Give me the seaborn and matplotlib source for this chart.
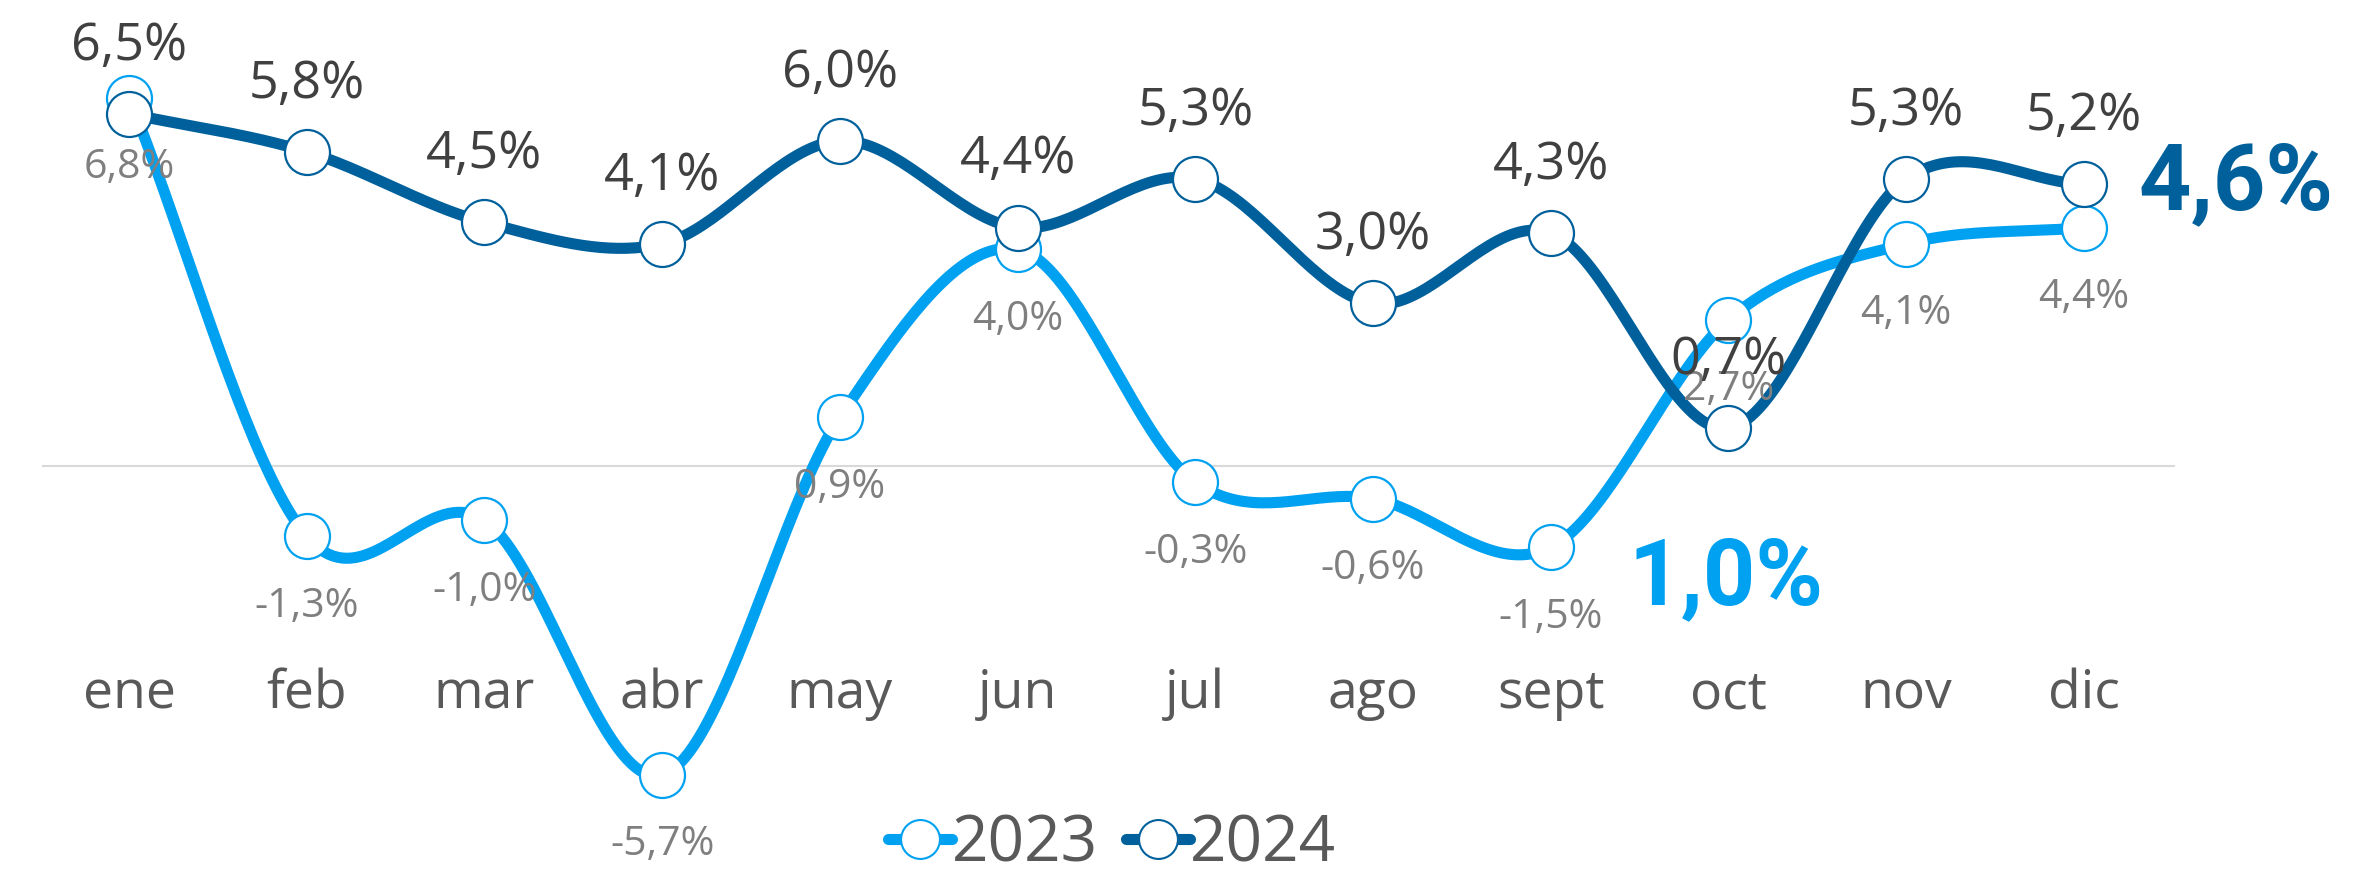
import numpy as np
import pandas as pd
import matplotlib
matplotlib.use("Agg")
import matplotlib.pyplot as plt
from matplotlib.lines import Line2D
import seaborn as sns

# Data
months = ["ene", "feb", "mar", "abr", "may", "jun", "jul", "ago", "sept", "oct", "nov", "dic"]
v2023 = [6.8, -1.3, -1.0, -5.7, 0.9, 4.0, -0.3, -0.6, -1.5, 2.7, 4.1, 4.4]
v2024 = [6.5, 5.8, 4.5, 4.1, 6.0, 4.4, 5.3, 3.0, 4.3, 0.7, 5.3, 5.2]
years = ["2023", "2024"]
totals = {"2023": "1,0%", "2024": "4,6%"}

colors = {"2023": "#00A1F1", "2024": "#00609C"}


def fmt(v):
    return f"{v:.1f}".replace(".", ",") + "%"


def smooth(values, steps=40):
    # cardinal (Catmull-Rom) spline through the points, like the original tool
    y = np.asarray(values, float)
    n = len(y)
    m = np.empty(n)
    m[1:-1] = (y[2:] - y[:-2]) / 2
    m[0] = y[1] - y[0]
    m[-1] = y[-1] - y[-2]
    t = np.linspace(0, 1, steps, endpoint=False)
    h00 = 2 * t**3 - 3 * t**2 + 1
    h10 = t**3 - 2 * t**2 + t
    h01 = -2 * t**3 + 3 * t**2
    h11 = t**3 - t**2
    xs, ys = [], []
    for i in range(n - 1):
        xs.append(i + t)
        ys.append(h00 * y[i] + h10 * m[i] + h01 * y[i + 1] + h11 * m[i + 1])
    xs.append([n - 1])
    ys.append([y[-1]])
    return np.concatenate(xs), np.concatenate(ys)


series = {"2023": v2023, "2024": v2024}
curves = []
points = []
for yr in years:
    sx, sy = smooth(series[yr])
    curves.append(pd.DataFrame({"x": sx, "y": sy, "year": yr}))
    points.append(pd.DataFrame({"x": np.arange(len(months)), "y": series[yr], "year": yr}))
curves = pd.concat(curves, ignore_index=True)
points = pd.concat(points, ignore_index=True)

sns.set_theme(style="white")
plt.rcParams["font.family"] = ["Open Sans", "DejaVu Sans"]

fig = plt.figure(figsize=(23.56, 8.73), dpi=100)
ax = fig.add_axes([0, 0, 1, 1])
ax.set_xlim(-0.726, 12.531)
ax.set_ylim(-7.51, 8.60)
ax.axis("off")

# zero line
ax.hlines(0, -0.49, 11.51, color="#d9d9d9", lw=1.5, zorder=1)

for k, yr in enumerate(years):
    z = 2 + k * 2
    sns.lineplot(data=curves[curves.year == yr], x="x", y="y", color=colors[yr],
                 lw=8, sort=False, estimator=None, ax=ax, zorder=z,
                 solid_capstyle="round")
    sns.scatterplot(data=points[points.year == yr], x="x", y="y", s=1050,
                    color="white", edgecolor=colors[yr], linewidth=1.6,
                    ax=ax, zorder=z + 1)

# value labels
for i, v in enumerate(v2023):
    ax.annotate(fmt(v), (i, v), xytext=(0, -58), textcoords="offset points",
                ha="center", va="baseline", fontsize=29.5, color="#7f7f7f", zorder=10)
for i, v in enumerate(v2024):
    ax.annotate(fmt(v), (i, v), xytext=(0, 39), textcoords="offset points",
                ha="center", va="baseline", fontsize=37.5, color="#404040", zorder=10)

# month labels
for i, m in enumerate(months):
    ax.text(i, -4.47, m, ha="center", va="baseline", fontsize=38.5, color="#595959")

# yearly totals
ax.annotate(totals["2024"], (11, v2024[-1]), xytext=(39, -18), textcoords="offset points",
            ha="left", va="baseline", fontsize=66, fontweight="bold",
            color=colors["2024"], family=["Roboto", "DejaVu Sans"])
ax.annotate(totals["2023"], (8, v2023[8]), xytext=(56, -41), textcoords="offset points",
            ha="left", va="baseline", fontsize=66, fontweight="bold",
            color=colors["2023"], family=["Roboto", "DejaVu Sans"])

# legend
handles = [Line2D([0], [0], color=colors[yr], lw=8, marker="o", ms=28,
                  mfc="white", mec=colors[yr], mew=1.5, solid_capstyle="round")
           for yr in years]
fig.legend(handles, years, loc="center", bbox_to_anchor=(0.472, 0.033), ncol=2,
           frameon=False, fontsize=46, handlelength=1.0, handletextpad=0.0,
           columnspacing=0.45, labelcolor="#595959", borderpad=0)

fig.savefig("out.png", dpi=100)
